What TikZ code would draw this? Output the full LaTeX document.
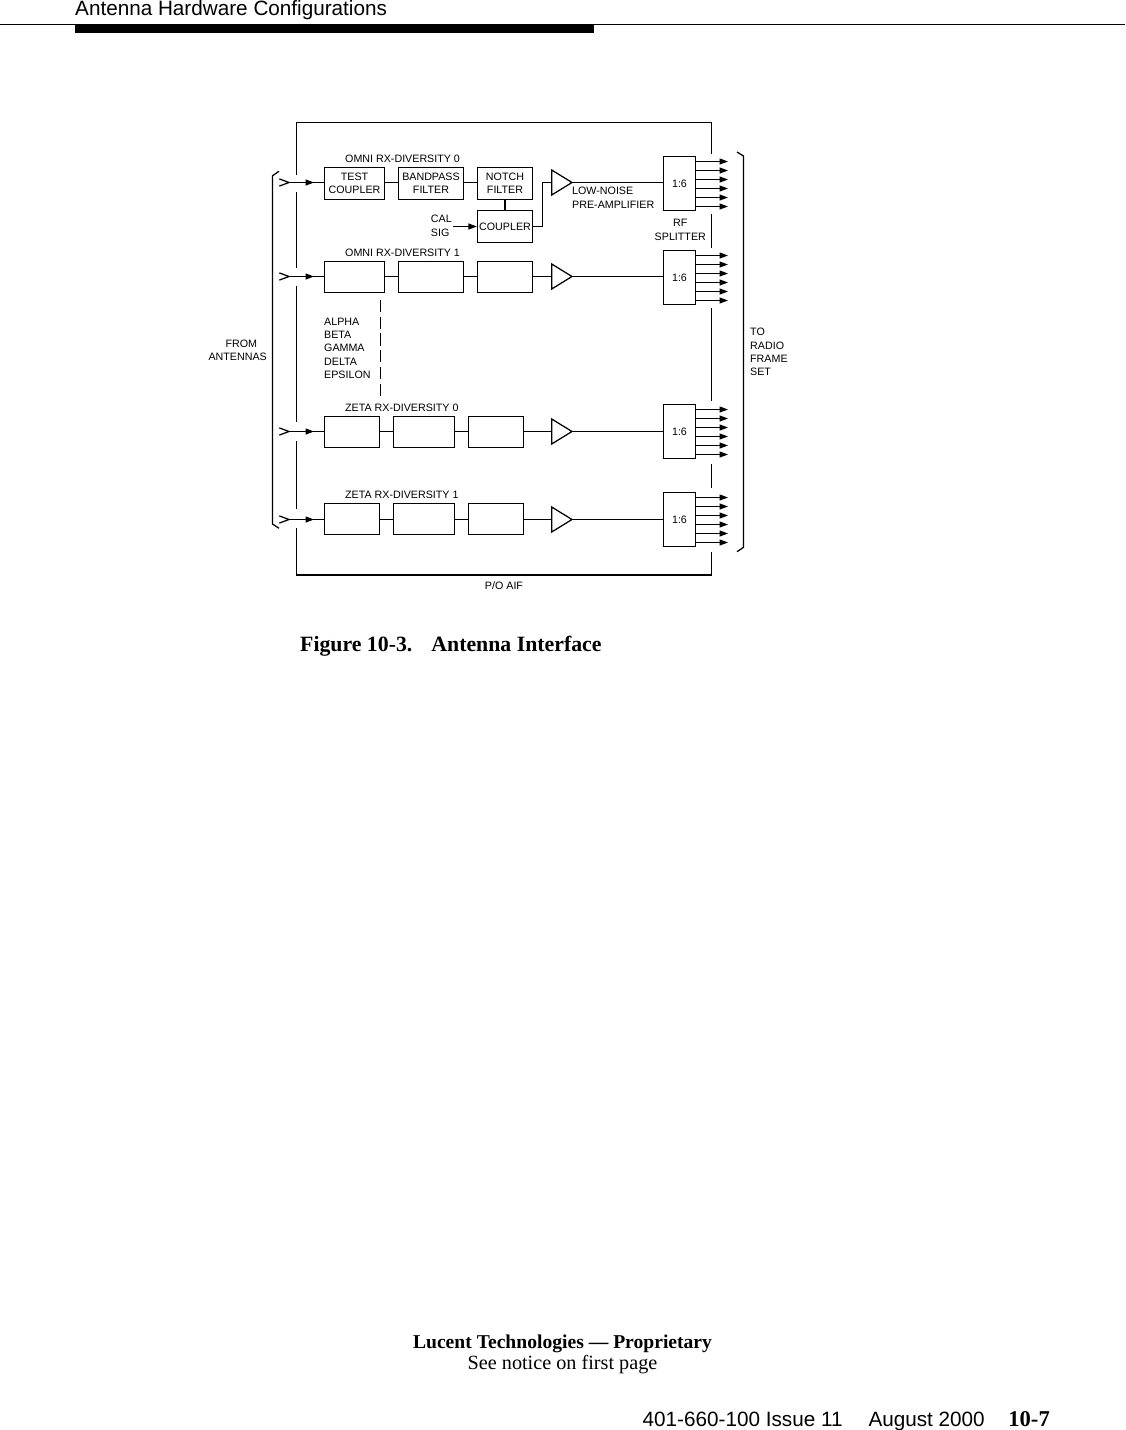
\documentclass[tikz,border=0pt]{standalone}
\usepackage{fontspec}
\setmainfont{Liberation Sans}
\newfontfamily\serifface{Liberation Serif}
\usetikzlibrary{arrows.meta,calc}
\tikzset{
  x=1pt,y=-1pt,
  wire/.style={line width=1.25pt,line cap=butt},
  frame/.style={line width=1.25pt},
  frameheavy/.style={line width=2pt},
  blk/.style={draw,line width=1.25pt,inner sep=0pt,align=center,font=\fontsize{10.7}{12.8}\selectfont},
  arr/.style={line width=1.25pt,-{Triangle[length=8.5pt,width=6pt]}},
  lbl/.style={inner sep=0pt,anchor=base west,font=\fontsize{10.7}{12.8}\selectfont},
  lblm/.style={inner sep=0pt,font=\fontsize{10.7}{13.4}\selectfont,align=left},
  chev/.style={line width=1.25pt},
}
\newcommand{\antenna}[2]{% name, y
  \coordinate (#1) at (289,#2);
  \draw[chev] ($(#1)+(-9.7,-3.6)$) -- (#1) -- ($(#1)+(-9.7,3.6)$);
}
\newcommand{\ampl}[2]{% name, y: defines #1i (input) and #1o (apex)
  \coordinate (#1i) at (551.7,#2);
  \coordinate (#1o) at (572,#2);
  \draw[line width=1.25pt,line join=miter] ($(#1i)+(0,-12.5)$) -- (#1o) -- ($(#1i)+(0,12.5)$) -- cycle;
}
\newcommand{\splitter}[3]{% name, center y, label
  \node[blk,minimum width=32pt,minimum height=54pt] (#1) at (679.5,#2) {#3};
  \foreach \k in {-22,-13,-4,5,14,23}{
    \coordinate (#1o) at (728,#2+\k);
    \draw[arr] (#1.east |- #1o) -- (#1o);
  }
}
\begin{document}
\begin{tikzpicture}
\useasboundingbox (0,0) rectangle (1125,1430);
% header
\node[inner sep=0pt,anchor=base west,font=\fontsize{20.7}{24}\selectfont] (hdr) at (75,15.5) {Antenna Hardware Configurations};
\coordinate (rulea) at (0,24.5);
\coordinate (ruleb) at (1125,24.5);
\draw[line width=1pt] (rulea) -- (ruleb);
\fill (75,25) rectangle (594,33);
% outer frame (broken on the signal lines)
\draw[frame] (296.5,175) -- (296.5,122.5) -- (711.5,122.5) -- (711.5,154);
\draw[frame] (296.5,192.3) -- (296.5,268.3);
\draw[frame] (296.5,285.7) -- (296.5,422.3);
\draw[frame] (296.5,441) -- (296.5,509.3);
\draw[frame] (296.5,528.3) -- (296.5,575);
\draw[frameheavy] (296,575) -- (712,575);
\draw[frame] (711.5,575) -- (711.5,551.7);
\draw[frame] (711.5,214.3) -- (711.5,247.7);
\draw[frame] (711.5,308) -- (711.5,400.7);
\draw[frame] (711.5,464.3) -- (711.5,488.3);
% brackets
\draw[frame] (279,171.3) -- (272.5,175.7) -- (272.5,524) -- (279,528.3);
\draw[frame] (737,152) -- (743.5,156) -- (743.5,547.3) -- (737,551.7);
% antennas
\antenna{ant1}{182.5}
\antenna{ant2}{276.5}
\antenna{ant3}{431.5}
\antenna{ant4}{519.5}
% row 1
\node[blk,minimum width=60pt,minimum height=32pt] (tc) at (354.5,183.5) {TEST\\COUPLER};
\node[blk,minimum width=65pt,minimum height=32pt] (bp) at (431,183.5) {BANDPASS\\FILTER};
\node[blk,minimum width=55pt,minimum height=32pt] (nf) at (505,183.5) {NOTCH\\FILTER};
\node[blk,minimum width=55pt,minimum height=32pt] (cp) at (505,226.5) {COUPLER};
\ampl{a1}{182.5}
\splitter{s1}{183.5}{1:6}
\draw[wire] (ant1) -- (tc.west |- ant1);
\draw[arr] (ant1) -- (314,182.5);
\draw[wire] (tc.east |- ant1) -- (bp.west |- ant1);
\draw[wire] (bp.east |- ant1) -- (nf.west |- ant1);
\draw[wire] (nf) -- (cp);
\draw[wire] (cp.east) -- (542.5,226.5) -- (542.5,182.5) -- (a1i);
\draw[wire] (a1o) -- (s1.west |- a1o);
\coordinate (calsig) at (453,226.5);
\draw[arr] (calsig) -- (cp.west);
% row 2
\node[blk,minimum width=60pt,minimum height=31pt] (b21) at (354.5,277) {};
\node[blk,minimum width=65pt,minimum height=31pt] (b22) at (431,277) {};
\node[blk,minimum width=55pt,minimum height=31pt] (b23) at (505,277) {};
\ampl{a2}{276.5}
\splitter{s2}{277.5}{1:6}
\draw[wire] (ant2) -- (b21.west |- ant2);
\draw[arr] (ant2) -- (314,276.5);
\draw[wire] (b21.east |- ant2) -- (b22.west |- ant2);
\draw[wire] (b22.east |- ant2) -- (b23.west |- ant2);
\draw[wire] (b23.east |- ant2) -- (a2i);
\draw[wire] (a2o) -- (s2.west |- a2o);
% dashed link
\coordinate (dasha) at (380.5,300);
\coordinate (dashb) at (380.5,396.3);
\draw[line width=1.25pt,dash pattern=on 12.3pt off 4.4pt] (dasha) -- (dashb);
% row 3
\node[blk,minimum width=55pt,minimum height=31pt] (b31) at (352,432) {};
\node[blk,minimum width=61pt,minimum height=31pt] (b32) at (424,432) {};
\node[blk,minimum width=55pt,minimum height=31pt] (b33) at (496,432) {};
\ampl{a3}{431.5}
\splitter{s3}{431.5}{1:6}
\draw[wire] (ant3) -- (b31.west |- ant3);
\draw[arr] (ant3) -- (314,431.5);
\draw[wire] (b31.east |- ant3) -- (b32.west |- ant3);
\draw[wire] (b32.east |- ant3) -- (b33.west |- ant3);
\draw[wire] (b33.east |- ant3) -- (a3i);
\draw[wire] (a3o) -- (s3.west |- a3o);
% row 4
\node[blk,minimum width=55pt,minimum height=31pt] (b41) at (352,519) {};
\node[blk,minimum width=61pt,minimum height=31pt] (b42) at (424,519) {};
\node[blk,minimum width=55pt,minimum height=31pt] (b43) at (496,519) {};
\ampl{a4}{519.5}
\splitter{s4}{519.5}{1:6}
\draw[wire] (ant4) -- (b41.west |- ant4);
\draw[arr] (ant4) -- (314,519.5);
\draw[wire] (b41.east |- ant4) -- (b42.west |- ant4);
\draw[wire] (b42.east |- ant4) -- (b43.west |- ant4);
\draw[wire] (b43.east |- ant4) -- (a4i);
\draw[wire] (a4o) -- (s4.west |- a4o);
% labels
\node[lbl] (l1) at (345,162) {OMNI RX-DIVERSITY 0};
\node[lbl] (l2) at (345,256) {OMNI RX-DIVERSITY 1};
\node[lbl] (l3) at (345,411) {ZETA RX-DIVERSITY 0};
\node[lbl] (l4) at (345,498) {ZETA RX-DIVERSITY 1};
\node[lblm,anchor=north west] (lna) at (572,187.2) {LOW-NOISE\\PRE-AMPLIFIER};
\node[lblm,anchor=north west] (cal) at (430.7,215.3) {CAL\\SIG};
\node[lblm,align=center,anchor=north] (rfs) at (680.3,219.3) {RF\\SPLITTER};
\node[lblm,anchor=north west] (grp) at (324,317.5) {ALPHA\\BETA\\GAMMA\\DELTA\\EPSILON};
\node[lblm,align=right,anchor=north east] (from) at (267,339.5) {FROM\hspace*{9.7pt}\\ANTENNAS};
\node[lblm,anchor=north west] (to) at (750,328) {TO\\RADIO\\FRAME\\SET};
\node[lbl,anchor=base] (poaif) at (504,589) {P/O AIF};
% caption
\node[inner sep=0pt,anchor=base west,font=\serifface\bfseries\fontsize{21.8}{25}\selectfont] (cap) at (300,651) {Figure 10-3.\hspace{19pt}Antenna Interface};
% footer
\node[inner sep=0pt,anchor=base,font=\serifface\bfseries\fontsize{19.6}{22}\selectfont] (ft1) at (562.5,1348) {Lucent Technologies — Proprietary};
\node[inner sep=0pt,anchor=base,font=\serifface\fontsize{20.2}{22}\selectfont] (ft2) at (562.5,1369) {See notice on first page};
\node[inner sep=0pt,anchor=base east,font=\fontsize{20.7}{24}\selectfont] (ft3) at (985,1426) {401-660-100 Issue 11\hspace{26pt}August 2000};
\node[inner sep=0pt,anchor=base east,font=\serifface\bfseries\fontsize{22.6}{24}\selectfont] (ft4) at (1050,1426) {10-7};
\end{tikzpicture}
\end{document}
